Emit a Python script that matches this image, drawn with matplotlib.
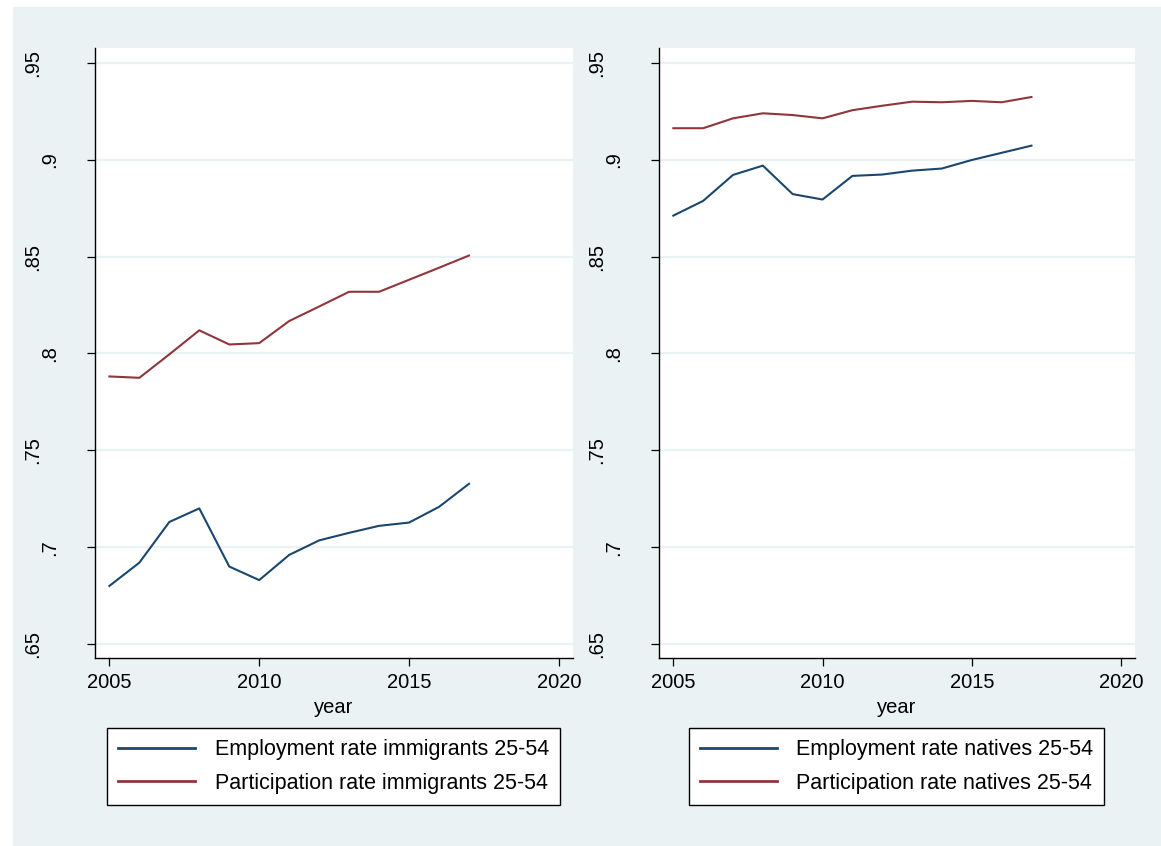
import numpy as np
import matplotlib
matplotlib.use('Agg')
import matplotlib.pyplot as plt
from matplotlib.patches import Rectangle
from matplotlib.transforms import ScaledTranslation

plt.rcParams['font.family'] = ['Liberation Sans', 'DejaVu Sans']

years = list(range(2005, 2018))

# immigrants 25-54
emp_imm = [0.680, 0.692, 0.713, 0.720, 0.690, 0.683, 0.696, 0.7035, 0.7074, 0.711, 0.7127, 0.7208, 0.7327]
part_imm = [0.7881, 0.7874, 0.7995, 0.8119, 0.8046, 0.8053, 0.8167, 0.8242, 0.8318, 0.8318, 0.838, 0.8442, 0.8505]

# natives 25-54
emp_nat = [0.8711, 0.8787, 0.8921, 0.8969, 0.8822, 0.8794, 0.8916, 0.8923, 0.8943, 0.8954, 0.8998, 0.9035, 0.9072]
part_nat = [0.9162, 0.9162, 0.9213, 0.9239, 0.923, 0.9213, 0.9255, 0.9278, 0.9299, 0.9296, 0.9303, 0.9296, 0.9323]

yticks = [0.65, 0.7, 0.75, 0.8, 0.85, 0.9, 0.95]
ytick_labels = ['.65', '.7', '.75', '.8', '.85', '.9', '.95']
xticks = [2005, 2010, 2015, 2020]

navy = '#1a476f'
maroon = '#90353b'
bg = '#eaf2f3'

W, H = 1161, 846
fig = plt.figure(figsize=(W / 100, H / 100), dpi=100, facecolor='white')
fig.patches.append(Rectangle((13 / W, 0), 1 - 13 / W, 1 - 7 / H,
                             transform=fig.transFigure, facecolor=bg,
                             edgecolor='none', zorder=-10))

panels = [
    (95, 573, emp_imm, part_imm, 'Employment rate immigrants 25-54',
     'Participation rate immigrants 25-54', 333.5),
    (659, 1135, emp_nat, part_nat, 'Employment rate natives 25-54',
     'Participation rate natives 25-54', 896.5),
]

for x0, x1, emp, part, lab1, lab2, legx in panels:
    ax = fig.add_axes([x0 / W, 1 - 658 / H, (x1 - x0) / W, (658 - 48) / H])
    ax.set_facecolor('white')
    ax.plot(years, emp, color=navy, lw=1.5, label=lab1)
    ax.plot(years, part, color=maroon, lw=1.5, label=lab2)
    ax.set_xlim(2004.52, 2020.47)
    ax.set_ylim(0.6428, 0.9576)
    ax.set_yticks(yticks)
    ax.set_yticklabels(ytick_labels, rotation=90, va='center')
    ax.set_xticks(xticks)
    ax.grid(axis='y', color=bg, lw=1.6)
    ax.set_axisbelow(True)
    for s in ['top', 'right']:
        ax.spines[s].set_visible(False)
    for s in ['left', 'bottom']:
        ax.spines[s].set_linewidth(1.0)
        ax.spines[s].set_color('black')
    ax.tick_params(axis='both', direction='out', length=6, width=0.9,
                   labelsize=14.5, colors='black')
    ax.tick_params(axis='y', pad=32)
    ax.tick_params(axis='x', pad=5)
    for lbl in ax.get_yticklabels():
        if len(lbl.get_text()) == 2:
            lbl.set_transform(lbl.get_transform() +
                              ScaledTranslation(0.17, 0, fig.dpi_scale_trans))
    ax.set_xlabel('year', fontsize=14.5, labelpad=4)
    leg = ax.legend(loc='center', bbox_to_anchor=(legx / W, 1 - 766.5 / H),
                    bbox_transform=fig.transFigure, fontsize=15.5,
                    frameon=True, fancybox=False, edgecolor='black',
                    framealpha=1, handlelength=3.6, handletextpad=0.9,
                    labelspacing=0.6, borderpad=0.5, borderaxespad=0)
    leg.get_frame().set_linewidth(1.0)
    for line in leg.get_lines():
        line.set_linewidth(2.0)

fig.savefig('out.png', dpi=100, facecolor='white')
